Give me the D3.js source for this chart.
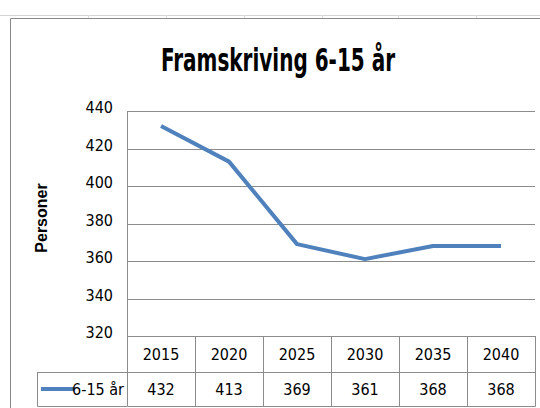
<!DOCTYPE html>
<html><head><meta charset="utf-8">
<script src="https://cdn.jsdelivr.net/npm/d3@7/dist/d3.min.js"></script>
<style>body{margin:0;background:#fff}svg{display:block}</style>
</head><body>
<script>
const categories = ["2015","2020","2025","2030","2035","2040"];
const values = [432, 413, 369, 361, 368, 368];
const yTicks = [320, 340, 360, 380, 400, 420, 440];
const seriesName = "6-15 år";
const title = "Framskriving 6-15 år";
const yTitle = "Personer";

(function(){
const W = 540, H = 408;
const svg = d3.select("body").append("svg").attr("width", W).attr("height", H);
const font = "'Liberation Sans Narrow','DejaVu Sans Condensed',sans-serif";
const grid = "#8c8c8c";

// spreadsheet gridline at top
svg.append("line").attr("x1",0).attr("x2",W).attr("y1",15.5).attr("y2",15.5).attr("stroke","#d4d4d4");
[88,166,244,322,398,476].forEach(x=>svg.append("line").attr("x1",x+0.5).attr("x2",x+0.5).attr("y1",15).attr("y2",19).attr("stroke","#e0e0e0"));
// chart border
svg.append("path").attr("d",`M10.5,${H} V18.5 H${W}`).attr("fill","none").attr("stroke","#8a8a8a");

// title
svg.append("text").attr("x",278).attr("y",71).attr("text-anchor","middle")
  .attr("font-family",font).attr("font-weight","bold").attr("font-size",32)
  .attr("textLength",234).attr("lengthAdjust","spacingAndGlyphs")
  .attr("fill","#000").text(title);

const pl = 127, pr = 535, pt = 111, pb = 336;
const x = d3.scaleBand().domain(categories).range([pl, pr]);
const y = d3.scaleLinear().domain([320, 440]).range([pb, pt]);

// gridlines
svg.append("g").selectAll("line").data(yTicks).join("line")
  .attr("x1",pl).attr("x2",pr).attr("y1",d=>Math.round(y(d))+0.5).attr("y2",d=>Math.round(y(d))+0.5)
  .attr("stroke",grid);
svg.append("line").attr("x1",pl+0.5).attr("x2",pl+0.5).attr("y1",pt).attr("y2",pb).attr("stroke",grid);

// y axis labels
const yAxis = d3.axisLeft(y).tickValues(yTicks).tickSize(0).tickPadding(14);
const ga = svg.append("g").attr("transform",`translate(${pl},0)`).call(yAxis);
ga.select(".domain").remove();
ga.selectAll("text").attr("font-family",font).attr("font-size",16).attr("fill","#000").attr("dy","0.1em");

// y title
svg.append("text").attr("transform",`translate(47,218) rotate(-90)`).attr("text-anchor","middle")
  .attr("font-family","'Liberation Sans','Arial',sans-serif").attr("font-weight","bold").attr("font-size",16)
  .attr("fill","#000").text(yTitle);

// line
const line = d3.line().x((d,i)=>x(categories[i])+x.bandwidth()/2).y(d=>y(d));
svg.append("path").datum(values).attr("d",line).attr("fill","none")
  .attr("stroke","#4f81bd").attr("stroke-width",4).attr("stroke-linejoin","round");

// data table
const row1 = [336, 372], row2 = [372, 406], tableLeft = 37;
const t = svg.append("g").attr("stroke",grid).attr("fill","none");
t.append("path").attr("d",`M${pl+0.5},${row1[0]} V${row2[1]+0.5} H${pr+0.5} V${row1[0]+0.5}`);
t.append("path").attr("d",`M${tableLeft+0.5},${row1[1]+0.5} H${pr} M${tableLeft+0.5},${row1[1]} V${row2[1]+0.5} H${pl}`);
categories.forEach((c,i)=>{
  const xe = Math.round(x(c)+x.bandwidth())+0.5;
  t.append("line").attr("x1",xe).attr("x2",xe).attr("y1",row1[0]).attr("y2",row2[1]);
});
svg.append("g").selectAll("text").data(categories).join("text")
  .attr("x",d=>x(d)+x.bandwidth()/2).attr("y",(row1[0]+row1[1])/2+6).attr("text-anchor","middle")
  .attr("font-family",font).attr("font-size",16).attr("fill","#000").text(d=>d);
svg.append("g").selectAll("text").data(values).join("text")
  .attr("x",(d,i)=>x(categories[i])+x.bandwidth()/2).attr("y",(row2[0]+row2[1])/2+6).attr("text-anchor","middle")
  .attr("font-family",font).attr("font-size",16).attr("fill","#000").text(d=>d);
// legend key
svg.append("line").attr("x1",41).attr("x2",74).attr("y1",389).attr("y2",389).attr("stroke","#4f81bd").attr("stroke-width",4);
svg.append("text").attr("x",124).attr("y",395).attr("text-anchor","end")
  .attr("font-family",font).attr("font-size",16).attr("fill","#000").text(seriesName);
})();
</script>
</body></html>
